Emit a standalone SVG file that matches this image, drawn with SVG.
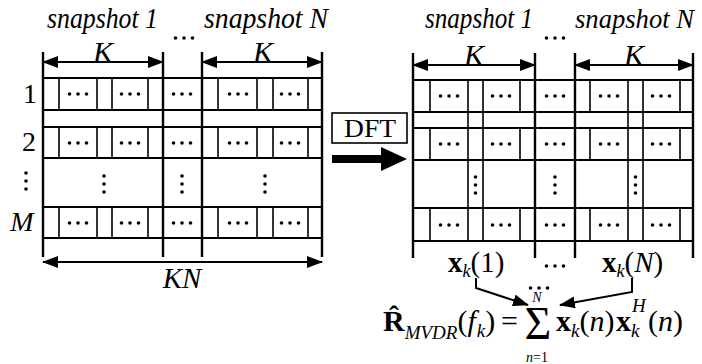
<svg xmlns="http://www.w3.org/2000/svg" width="702" height="364" viewBox="0 0 702 364" font-family="'Liberation Serif', 'Times New Roman', serif">
<defs>
<style>
.thick{stroke:#000;stroke-width:2.4;fill:none}
.med{stroke:#000;stroke-width:2;fill:none}
.thin{stroke:#000;stroke-width:1.6;fill:none}
.t{font-family:'Liberation Serif','Times New Roman',serif;fill:#000}
.it{font-style:italic}
.b{font-weight:bold}
.d{fill:#000}
</style>
<marker id="ah" viewBox="0 0 16 12" refX="15" refY="6" markerWidth="16" markerHeight="12" markerUnits="userSpaceOnUse" orient="auto-start-reverse">
<path d="M0,0 L16,6 L0,12 z" fill="#000"/>
</marker>
<g id="dots3h"><circle cx="-8.5" cy="0" r="1.8"/><circle cx="0" cy="0" r="1.8"/><circle cx="8.5" cy="0" r="1.8"/></g>
<g id="dots3v"><circle cx="0" cy="-8" r="1.8"/><circle cx="0" cy="0" r="1.8"/><circle cx="0" cy="8" r="1.8"/></g>
</defs>
<rect width="702" height="364" fill="#fff"/>

<g id="labels-left">
<text class="t it" x="47" y="28" font-size="29" textLength="111" lengthAdjust="spacingAndGlyphs">snapshot 1</text>
<text class="t it" x="204" y="28" font-size="29" textLength="124" lengthAdjust="spacingAndGlyphs">snapshot N</text>
<use href="#dots3h" x="184" y="38"/>
<text class="t it" x="103" y="62" font-size="30" text-anchor="middle">K</text>
<text class="t it" x="263" y="62" font-size="30" text-anchor="middle">K</text>
<text class="t" x="30" y="103" font-size="28" text-anchor="middle">1</text>
<text class="t" x="29" y="151" font-size="28" text-anchor="middle">2</text>
<use href="#dots3v" x="26" y="181"/>
<text class="t it" x="22" y="231" font-size="28" text-anchor="middle">M</text>
<text class="t it" x="182" y="288" font-size="29" text-anchor="middle">KN</text>
</g>

<g id="matrix-left">
<path class="thick" d="M43,52V257M163,52V257M202,52V257M322,52V257"/>
<path class="med" d="M43,78H322M43,110H322M43,127H322M43,158H322M43,207H322M43,238H322"/>
<path class="thin" d="M59,78V110M97,78V110M112,78V110M148,78V110M218,78V110M257,78V110M273,78V110M308,78V110
M59,127V158M97,127V158M112,127V158M148,127V158M218,127V158M257,127V158M273,127V158M308,127V158
M59,207V238M97,207V238M112,207V238M148,207V238M218,207V238M257,207V238M273,207V238M308,207V238"/>
<g class="d">
<use href="#dots3h" x="78" y="94"/><use href="#dots3h" x="130" y="94"/><use href="#dots3h" x="182" y="94"/><use href="#dots3h" x="238" y="94"/><use href="#dots3h" x="290" y="94"/>
<use href="#dots3h" x="78" y="143"/><use href="#dots3h" x="130" y="143"/><use href="#dots3h" x="182" y="143"/><use href="#dots3h" x="238" y="143"/><use href="#dots3h" x="290" y="143"/>
<use href="#dots3h" x="78" y="223"/><use href="#dots3h" x="130" y="223"/><use href="#dots3h" x="182" y="223"/><use href="#dots3h" x="238" y="223"/><use href="#dots3h" x="290" y="223"/>
<use href="#dots3v" x="104" y="184"/><use href="#dots3v" x="182" y="184"/><use href="#dots3v" x="265" y="184"/>
</g>
</g>

<g id="dft">
<rect x="332" y="113" width="75" height="30" class="thin"/>
<text class="t" x="370" y="137" font-size="26" text-anchor="middle" textLength="52" lengthAdjust="spacingAndGlyphs">DFT</text>
<path d="M332,155H381V147L407,159L381,171V163H332z" fill="#000"/>
</g>

<g id="labels-right">
<text class="t it" x="425" y="28" font-size="29" textLength="108" lengthAdjust="spacingAndGlyphs">snapshot 1</text>
<text class="t it" x="575" y="28" font-size="28" textLength="119" lengthAdjust="spacingAndGlyphs">snapshot N</text>
<use href="#dots3h" x="555" y="38"/>
<text class="t it" x="474" y="65" font-size="30" text-anchor="middle">K</text>
<text class="t it" x="634" y="65" font-size="30" text-anchor="middle">K</text>
</g>

<g id="matrix-right">
<path class="thick" d="M413,53V258M535,53V258M575,53V258M693,53V258"/>
<path class="med" d="M413,80H693M413,112H693M413,128H693M413,160H693M413,208H693M413,241H693"/>
<path class="thin" d="M468,80V241M483,80V241M628,80V241M643,80V241
M430,80V112M520,80V112M590,80V112M680,80V112
M430,128V160M520,128V160M590,128V160M680,128V160
M430,208V241M520,208V241M590,208V241M680,208V241"/>
<g class="d">
<use href="#dots3h" x="449" y="96"/><use href="#dots3h" x="501" y="96"/><use href="#dots3h" x="555" y="96"/><use href="#dots3h" x="609" y="96"/><use href="#dots3h" x="661" y="96"/>
<use href="#dots3h" x="449" y="144"/><use href="#dots3h" x="501" y="144"/><use href="#dots3h" x="555" y="144"/><use href="#dots3h" x="609" y="144"/><use href="#dots3h" x="661" y="144"/>
<use href="#dots3h" x="449" y="225"/><use href="#dots3h" x="501" y="225"/><use href="#dots3h" x="555" y="225"/><use href="#dots3h" x="609" y="225"/><use href="#dots3h" x="661" y="225"/>
<use href="#dots3v" x="475.5" y="185"/><use href="#dots3v" x="555" y="185"/><use href="#dots3v" x="635.5" y="185"/>
</g>
</g>

<g id="connectors">
<path class="med" d="M43,62H163" marker-start="url(#ah)" marker-end="url(#ah)"/>
<path class="med" d="M202,62H322" marker-start="url(#ah)" marker-end="url(#ah)"/>
<path class="med" d="M413,65H535" marker-start="url(#ah)" marker-end="url(#ah)"/>
<path class="med" d="M575,65H693" marker-start="url(#ah)" marker-end="url(#ah)"/>
<path class="med" d="M43,262H322" marker-start="url(#ah)" marker-end="url(#ah)"/>
<path class="med" d="M476,278V288L528,305" marker-end="url(#ah)"/>
<path class="med" d="M632,278V292L560,305" marker-end="url(#ah)"/>
</g>

<g id="vectors">
<text class="t" x="448" y="272" font-size="29"><tspan class="b">x</tspan><tspan class="it" font-size="18" dy="5">k</tspan><tspan dy="-5">(1)</tspan></text>
<use href="#dots3h" x="555" y="266"/>
<text class="t" x="602" y="272" font-size="29"><tspan class="b">x</tspan><tspan class="it" font-size="18" dy="5">k</tspan><tspan dy="-5">(</tspan><tspan class="it">N</tspan><tspan>)</tspan></text>
</g>

<g id="formula">
<text class="t" x="383" y="331" font-size="30"><tspan class="b">R̂</tspan><tspan class="it" font-size="19" dy="8">MVDR</tspan><tspan dy="-8">(</tspan><tspan class="it">f</tspan><tspan class="it" font-size="19" dx="1" dy="6">k</tspan><tspan dy="-6">)</tspan><tspan x="501">=</tspan></text>
<use href="#dots3h" x="539" y="288"/>
<text class="t it" x="537" y="302" font-size="14" text-anchor="middle">N</text>
<text class="t" x="538" y="339" font-size="46" text-anchor="middle">Σ</text>
<text class="t" x="537" y="362" font-size="14" text-anchor="middle"><tspan class="it">n</tspan>=1</text>
<text class="t" x="556" y="331" font-size="30"><tspan class="b">x</tspan><tspan class="it" font-size="19" dy="6">k</tspan><tspan dy="-6">(</tspan><tspan class="it">n</tspan><tspan>)</tspan></text>
<text class="t" x="616" y="331" font-size="30"><tspan class="b">x</tspan><tspan class="it" font-size="19" dy="6">k</tspan><tspan class="it" font-size="19" x="632" dy="-25">H</tspan><tspan x="648" dy="19">(</tspan><tspan class="it">n</tspan><tspan>)</tspan></text>
</g>
</svg>
